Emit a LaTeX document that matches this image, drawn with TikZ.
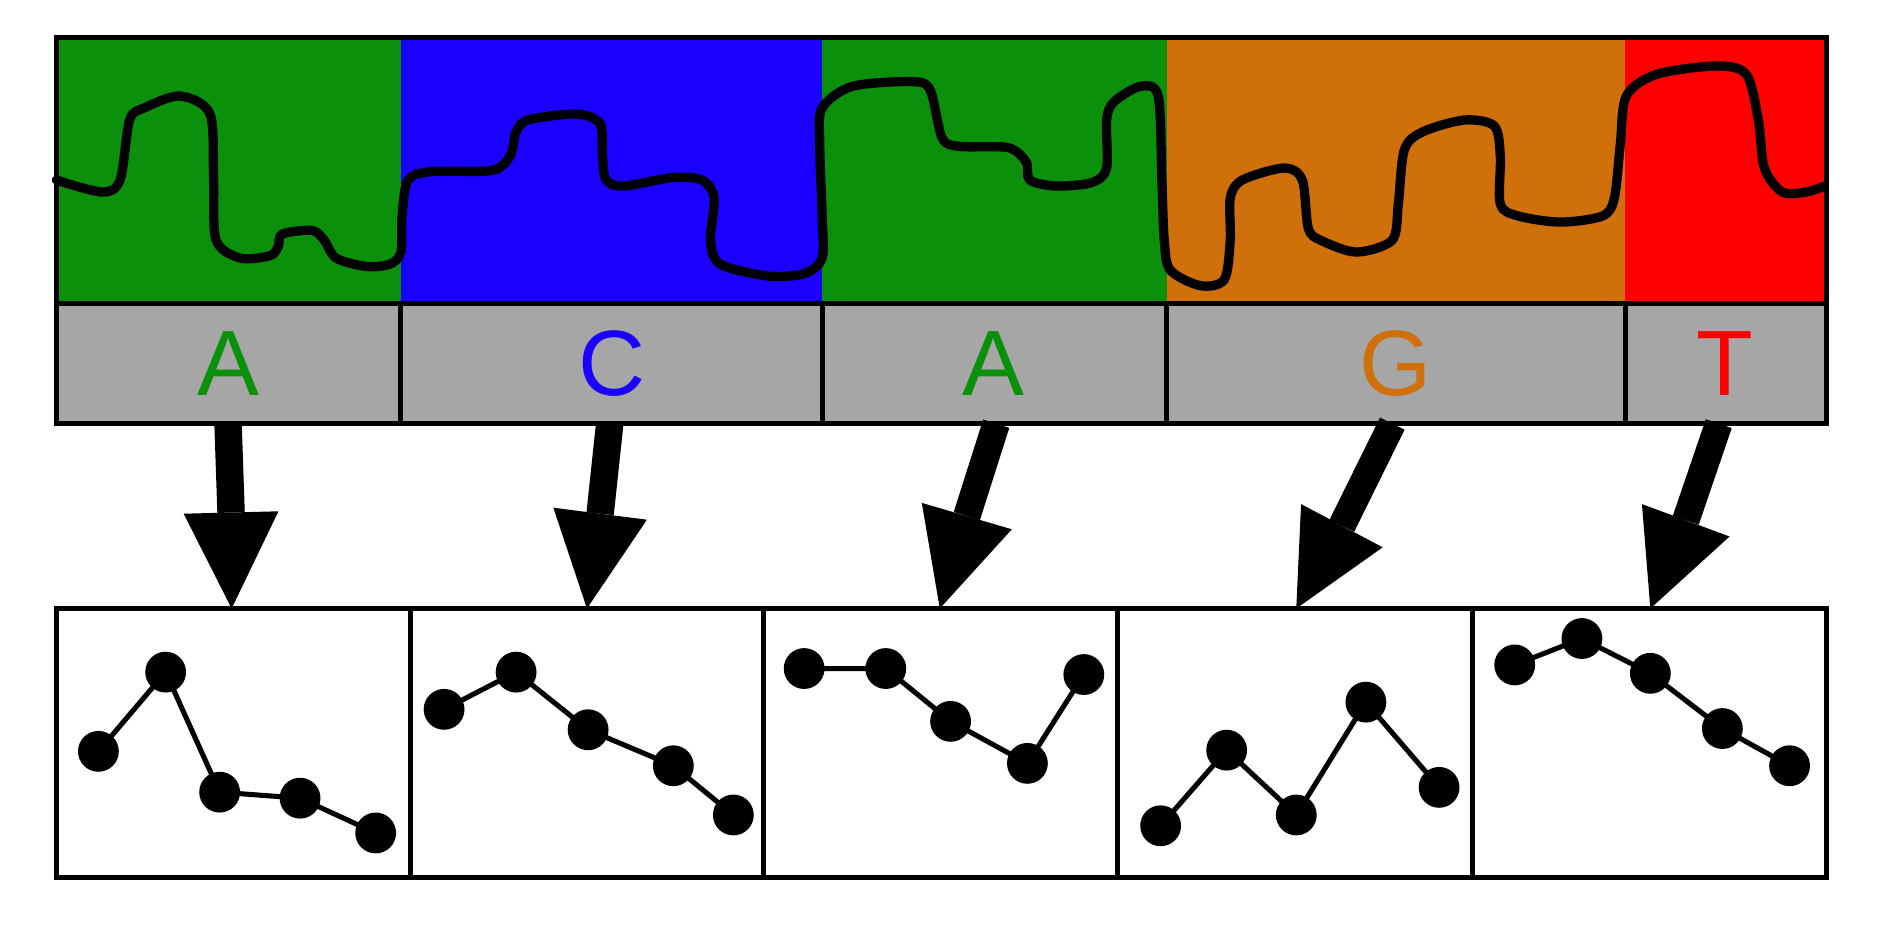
\documentclass[tikz,border=0pt]{standalone}
\usepackage{fontspec}
\setmainfont{Liberation Sans}
\usetikzlibrary{calc}
\begin{document}
\begin{tikzpicture}[x=0.01cm,y=-0.01cm,
  box/.style={draw=black,line width=1.2pt},
  lbl/.style={font=\fontsize{22}{24}\selectfont,anchor=center},
  wave/.style={line width=2.2pt,line join=round,line cap=round},
  gl/.style={line width=1.2pt},
  dot/.style={circle,fill=black,inner sep=0pt,minimum size=0.34cm},
  shaft/.style={line width=6.5pt}]
\definecolor{cg}{HTML}{0B900B}\definecolor{cb}{HTML}{1A00FF}
\definecolor{co}{HTML}{D0700A}\definecolor{cr}{HTML}{FF0000}
\definecolor{gr}{HTML}{A6A6A6}
\useasboundingbox (0,0) rectangle (1568,770);
% colour bands
\fill[cg] (47,31) rectangle (334,253);
\fill[cb] (334,31) rectangle (685,253);
\fill[cg] (685,31) rectangle (972,253);
\fill[co] (972,31) rectangle (1354,253);
\fill[cr] (1354,31) rectangle (1522,253);
\fill[gr] (47,253) rectangle (1522,353);
\draw[wave] plot[smooth,tension=0.5] coordinates{(47,150)(85,160)(100,150)(108,100)(120,90)(150,80)(175,95)(178,150)(180,200)(200,215)(225,213)(232,205)(235,195)(260,192)(270,200)(280,215)(305,222)(325,220)(334,210)
(335,180)(340,150)(360,143)(410,142)(425,130)(430,110)(440,100)(480,95)(500,103)(502,130)(505,150)(520,155)(560,148)(585,150)(595,165)(592,200)(600,220)(640,230)(670,228)(685,215)
(685,180)(683,120)(685,90)(710,72)(760,68)(775,75)(785,115)(800,122)(840,123)(855,135)(858,150)(880,155)(910,152)(922,140)(922,100)(928,85)(950,72)(965,80)(968,150)(970,200)(975,225)(1000,238)(1020,233)(1025,200)(1025,165)(1035,150)(1070,140)(1085,150)(1090,190)(1100,200)(1130,210)(1160,200)(1165,170)(1170,125)(1185,110)(1220,100)(1245,105)(1250,130)(1250,170)(1265,180)(1300,185)(1335,180)(1345,165)(1350,120)(1355,80)(1380,62)(1430,55)(1455,62)(1465,100)(1470,140)(1485,160)(1505,160)(1520,155)};
\draw[box] (47,31) rectangle (1522,353);
\draw[box] (47,253) -- (1522,253);
\foreach \x in {334,685,972,1354} \draw[box] (\x,253) -- (\x,353);
\node[lbl,text=cg] (l1) at (190,303) {A};
\node[lbl,text=cb] (l2) at (510,303) {C};
\node[lbl,text=cg] (l3) at (828,303) {A};
\node[lbl,text=co] (l4) at (1163,303) {G};
\node[lbl,text=cr] (l5) at (1437,303) {T};
% bottom boxes
\draw[box] (47,507) rectangle (1522,731);
\foreach \x in {342,636,931,1227} \draw[box] (\x,507) -- (\x,731);
% arrows
\foreach \sx/\tx/\ax/\ay/\bx/\by [count=\i] in {190/193/153/428/232/426, 508/489/461/423/539/433, 830/783/768/419/843/441, 1160/1080/1084/420/1152/456, 1432/1375/1368/420/1441/447}{
  \coordinate (s\i) at (\sx,353);
  \coordinate (t\i) at (\tx,507);
  \coordinate (a\i) at (\ax,\ay);
  \coordinate (b\i) at (\bx,\by);
  \draw[shaft] (s\i) -- ($(a\i)!0.5!(b\i)$);
  \fill (a\i) -- (t\i) -- (b\i) -- cycle;
}
% graphs
\foreach \ax/\ay/\bx/\by/\cx/\cy/\dx/\dy/\ex/\ey [count=\g] in {
 82/626/138/560/183/660/250/665/313/694,
 370/591/430/560/490/608/561/638/611/679,
 670/557/738/557/792/601/856/636/903/562,
 967/688/1022/625/1080/679/1138/585/1199/656,
 1262/554/1318/532/1375/561/1435/607/1491/638}{
  \node[dot] (p\g a) at (\ax,\ay) {};
  \node[dot] (p\g b) at (\bx,\by) {};
  \node[dot] (p\g c) at (\cx,\cy) {};
  \node[dot] (p\g d) at (\dx,\dy) {};
  \node[dot] (p\g e) at (\ex,\ey) {};
  \draw[gl] (p\g a.center) -- (p\g b.center) -- (p\g c.center) -- (p\g d.center) -- (p\g e.center);
}
\end{tikzpicture}
\end{document}
